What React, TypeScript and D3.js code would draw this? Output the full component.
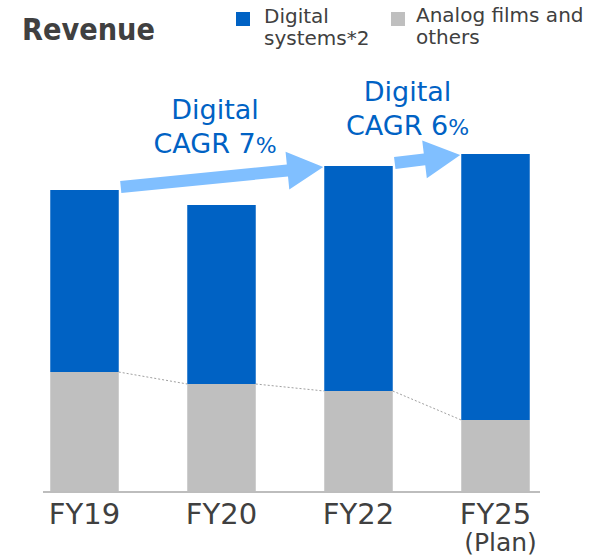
import * as d3 from "d3";

const WIDTH = 610;
const HEIGHT = 559;

// Revenue by fiscal year (relative units)
const categories = ["FY19", "FY20", "FY22", "FY25"];
const subLabels = ["", "", "", "(Plan)"];
const digital = [182, 179, 225, 266];
const analog = [120, 108, 101, 72];

// CAGR callouts: from -> to category and the rate
const cagrFrom = ["FY19", "FY22"];
const cagrTo = ["FY22", "FY25"];
const cagrRate = ["7", "6"];

const BLUE = "#0062c4";
const GRAY = "#bfbfbf";
const ARROW = "#80bfff";
const TEXT = "#404040";
const FONT = "'DejaVu Sans', Verdana, sans-serif";

const BASE_Y = 492;

function arrowPath(x1: number, y1: number, x2: number, y2: number) {
  const shaft = 12;
  const headW = 38;
  const headL = 36;
  const len = Math.hypot(x2 - x1, y2 - y1);
  const ux = (x2 - x1) / len;
  const uy = (y2 - y1) / len;
  const nx = -uy;
  const ny = ux;
  const bx = x2 - ux * headL;
  const by = y2 - uy * headL;
  const pts: [number, number][] = [
    [x1 + nx * shaft / 2, y1 + ny * shaft / 2],
    [bx + nx * shaft / 2, by + ny * shaft / 2],
    [bx + nx * headW / 2, by + ny * headW / 2],
    [x2, y2],
    [bx - nx * headW / 2, by - ny * headW / 2],
    [bx - nx * shaft / 2, by - ny * shaft / 2],
    [x1 - nx * shaft / 2, y1 - ny * shaft / 2],
  ];
  return d3.line()(pts) + "Z";
}

export default function App() {
  const x = d3
    .scaleBand<string>()
    .domain(categories)
    .range([16, 564])
    .paddingInner(0.5)
    .paddingOuter(0.25);
  const y = d3.scaleLinear().domain([0, 340]).range([BASE_Y, 152]);
  const bw = x.bandwidth();
  const total = (c: string) => {
    const i = categories.indexOf(c);
    return digital[i] + analog[i];
  };

  return (
    <svg
      width={WIDTH}
      height={HEIGHT}
      style={{ position: "absolute", left: 0, top: 0, background: "#fff" }}
      fontFamily={FONT}>
      {/* title */}
      <text x={22} y={40} fontSize={30} fontWeight={700} fill={TEXT} textLength={133} lengthAdjust="spacingAndGlyphs">
        Revenue
      </text>

      {/* legend */}
      <rect x={236} y={12} width={14} height={14} fill={BLUE} />
      <text x={264} y={23} fontSize={20} fill={TEXT}>Digital</text>
      <text x={264} y={45} fontSize={20} fill={TEXT}>systems*2</text>
      <rect x={391} y={12} width={14} height={14} fill={GRAY} />
      <text x={416} y={22} fontSize={20} fill={TEXT}>Analog films and</text>
      <text x={416} y={44} fontSize={20} fill={TEXT}>others</text>

      {/* bars */}
      {categories.map((c, i) => (
        <g key={c}>
          <rect x={x(c)} y={y(analog[i])} width={bw} height={BASE_Y - y(analog[i])} fill={GRAY} />
          <rect
            x={x(c)}
            y={y(analog[i] + digital[i])}
            width={bw}
            height={y(analog[i]) - y(analog[i] + digital[i])}
            fill={BLUE}
          />
        </g>
      ))}

      {/* dotted connectors between analog tops */}
      {categories.slice(0, -1).map((c, i) => (
        <line
          key={c}
          x1={x(c)! + bw}
          y1={y(analog[i])}
          x2={x(categories[i + 1])}
          y2={y(analog[i + 1])}
          stroke="#a0a0a0"
          strokeWidth={1}
          strokeDasharray="2 2"
        />
      ))}

      {/* baseline */}
      <line x1={43} x2={540} y1={BASE_Y} y2={BASE_Y} stroke="#bdbdbd" strokeWidth={2} />

      {/* category labels */}
      {categories.map((c, i) => (
        <g key={c}>
          <text x={x(c)! + bw / 2} y={524} textAnchor="middle" fontSize={29} fill={TEXT}>
            {c}
          </text>
          {subLabels[i] && (
            <text x={x(c)! + bw / 2 + 5} y={551} textAnchor="middle" fontSize={25} fill={TEXT}>
              {subLabels[i]}
            </text>
          )}
        </g>
      ))}

      {/* CAGR arrows + labels */}
      {cagrFrom.map((f, i) => {
        const t = cagrTo[i];
        const x1 = x(f)! + bw + 2;
        const y1 = y(total(f)) - 3;
        const x2 = x(t)! - 1;
        const y2 = y(total(t)) + 1;
        const cx = (x1 + x2) / 2 - (i === 0 ? 7 : 20);
        const cy = (y1 + y2) / 2;
        return (
          <g key={f}>
            <path d={arrowPath(x1, y1, x2, y2)} fill={ARROW} />
            <text x={cx} y={cy - 58} textAnchor="middle" fontSize={27} fill={BLUE}>
              Digital
            </text>
            <text x={cx} y={cy - 24} textAnchor="middle" fontSize={27} fill={BLUE}>
              CAGR {cagrRate[i]}
              <tspan fontSize={22}>%</tspan>
            </text>
          </g>
        );
      })}
    </svg>
  );
}
